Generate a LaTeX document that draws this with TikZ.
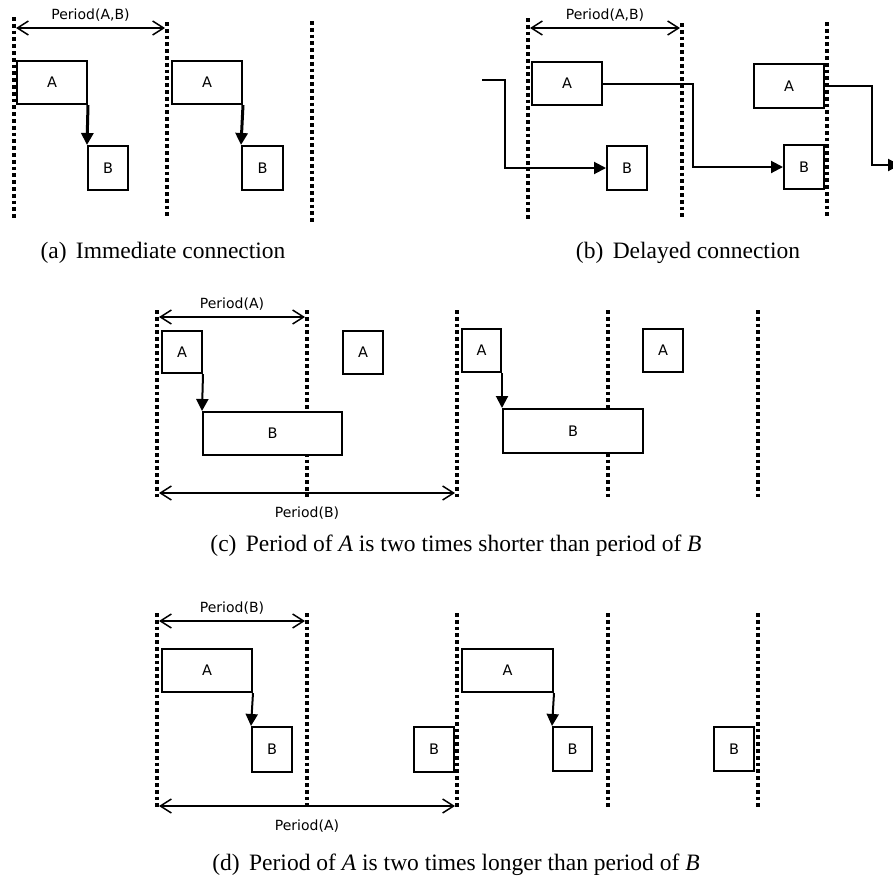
\documentclass[tikz,border=0pt]{standalone}
\usepackage{fontspec}
\setmainfont{Liberation Serif}
\newfontfamily\dv{DejaVu Sans}
\usetikzlibrary{arrows.meta}
\begin{document}
\begin{tikzpicture}[x=1pt,y=-1pt,
  box/.style={draw,line width=2pt,fill=white,inner sep=0pt,font=\dv\fontsize{14.5}{16}\selectfont},
  dotline/.style={line width=3.2pt,dash pattern=on 3.8pt off 3pt},
  period/.style={line width=1.5pt,{Straight Barb[length=11pt,width=14pt,line width=1.5pt]}-{Straight Barb[length=11pt,width=14pt,line width=1.5pt]}},
  conn/.style={line width=2pt,-{Triangle[length=12pt,width=12pt]}},
  plabel/.style={font=\dv\fontsize{14}{16}\selectfont,inner sep=0pt},
  caption/.style={font=\fontsize{23.5}{28}\selectfont,inner sep=0pt}]
\useasboundingbox (0,0) rectangle (893,886);
% ---------- panel (a)
\draw[dotline] (14,17) -- (14,220);
\draw[dotline] (167,22) -- (167,218);
\draw[dotline] (312,21) -- (312,222);
\coordinate (pa1) at (16,28); \coordinate (pa2) at (165,28);
\draw[period] (pa1) -- (pa2) node[plabel,midway,yshift=13pt] (pal) {Period(A,B)};
\node[box,minimum width=70pt,minimum height=43pt] (aA1) at (52,82.5) {A};
\node[box,minimum width=40pt,minimum height=44pt] (aB1) at (108,168) {B};
\node[box,minimum width=70pt,minimum height=43pt] (aA2) at (207,82.5) {A};
\node[box,minimum width=41pt,minimum height=44pt] (aB2) at (262.5,168) {B};
\draw[conn,line width=3pt] (aA1.south east) -- (aB1.north west);
\draw[conn,line width=3pt] (aA2.south east) -- (aB2.north west);
\node[caption] (capa) at (163,253) {(a)\hspace{0.4em}Immediate connection};
% ---------- panel (b)
\draw[dotline] (528,18) -- (528,220);
\draw[dotline] (682,23) -- (682,218);
\draw[dotline] (827,22) -- (827,218);
\coordinate (pb1) at (530,28); \coordinate (pb2) at (680,28);
\draw[period] (pb1) -- (pb2) node[plabel,midway,yshift=13pt] (pbl) {Period(A,B)};
\node[box,minimum width=70pt,minimum height=43pt] (bA1) at (567,83.5) {A};
\node[box,minimum width=40pt,minimum height=44pt] (bB1) at (627,168) {B};
\node[box,minimum width=70pt,minimum height=44pt] (bA2) at (789,86) {A};
\node[box,minimum width=40pt,minimum height=44pt] (bB2) at (804,167) {B};
\coordinate (bin) at (482,80);
\coordinate (bout) at (900,165);
\draw[conn] (bin) -- (505,80) |- (bB1.west);
\draw[conn] (bA1.east) -- (693,83.5) |- (bB2.west);
\draw[conn] (bA2.east) -- (872,86) |- (bout);
\node[caption] (capb) at (688,253) {(b)\hspace{0.4em}Delayed connection};
% ---------- panel (c)
\foreach \xx in {157,307,457,608,758} {\draw[dotline] (\xx,310) -- (\xx,497);}
\coordinate (pc1) at (159,317); \coordinate (pc2) at (305,317);
\draw[period] (pc1) -- (pc2) node[plabel,midway,yshift=13pt] (pcl) {Period(A)};
\node[box,minimum width=40pt,minimum height=42pt] (cA1) at (182,352) {A};
\node[box,minimum width=139pt,minimum height=43pt] (cB1) at (272.5,433.5) {B};
\node[box,minimum width=40pt,minimum height=43pt] (cA2) at (363,352.5) {A};
\node[box,minimum width=39pt,minimum height=43pt] (cA3) at (481.5,350.5) {A};
\node[box,minimum width=140pt,minimum height=44pt] (cB2) at (573,431) {B};
\node[box,minimum width=40pt,minimum height=43pt] (cA4) at (663,350.5) {A};
\draw[conn] (cA1.south east) -- (cB1.north west);
\draw[conn] (cA3.south east) -- (cB2.north west);
\coordinate (pc3) at (159,493); \coordinate (pc4) at (455,493);
\draw[period] (pc3) -- (pc4) node[plabel,midway,yshift=-20pt] (pcl2) {Period(B)};
\node[caption] (capc) at (456,546) {(c)\hspace{0.4em}Period of \textit{A} is two times shorter than period of \textit{B}};
% ---------- panel (d)
\foreach \xx in {157,307,457,608,758} {\draw[dotline] (\xx,613) -- (\xx,810);}
\coordinate (pd1) at (159,621); \coordinate (pd2) at (305,621);
\draw[period] (pd1) -- (pd2) node[plabel,midway,yshift=13pt] (pdl) {Period(B)};
\node[box,minimum width=90pt,minimum height=43pt] (dA1) at (207,670.5) {A};
\node[box,minimum width=40pt,minimum height=45pt] (dB1) at (272,749.5) {B};
\node[box,minimum width=40pt,minimum height=45pt] (dB2) at (434,749.5) {B};
\node[box,minimum width=91pt,minimum height=43pt] (dA2) at (507.5,670.5) {A};
\node[box,minimum width=39pt,minimum height=44pt] (dB3) at (572.5,749) {B};
\node[box,minimum width=40pt,minimum height=44pt] (dB4) at (734,749) {B};
\draw[conn] (dA1.south east) -- (dB1.north west);
\draw[conn] (dA2.south east) -- (dB3.north west);
\coordinate (pd3) at (159,806); \coordinate (pd4) at (455,806);
\draw[period] (pd3) -- (pd4) node[plabel,midway,yshift=-20pt] (pdl2) {Period(A)};
\node[caption] (capd) at (456,865) {(d)\hspace{0.4em}Period of \textit{A} is two times longer than period of \textit{B}};
\end{tikzpicture}
\end{document}
